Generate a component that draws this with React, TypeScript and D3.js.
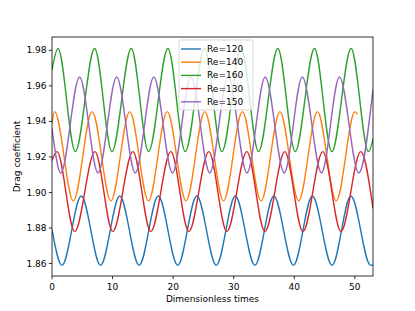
import * as d3 from "d3";

// Re=120
const t120 = [0, 1.65, 4.83, 8.02, 11.19, 14.39, 17.55, 20.76, 23.91, 27.13, 30.27, 33.5, 36.63, 39.87, 42.99, 46.24, 49.35, 52.61, 53];
const v120 = [1.879, 1.859, 1.898, 1.859, 1.898, 1.859, 1.898, 1.859, 1.898, 1.859, 1.898, 1.859, 1.898, 1.859, 1.898, 1.859, 1.898, 1.859, 1.8593];
// Re=140
const t140 = [0, 0.43, 3.53, 6.63, 9.73, 12.83, 15.93, 19.03, 22.13, 25.23, 28.33, 31.43, 34.53, 37.63, 40.73, 43.83, 46.93, 50.03, 50.45];
const v140 = [1.939, 1.9455, 1.8953, 1.9455, 1.8953, 1.9455, 1.8953, 1.9455, 1.8953, 1.9455, 1.8953, 1.9455, 1.8953, 1.9455, 1.8953, 1.9455, 1.8953, 1.9455, 1.944];
// Re=160
const t160 = [0, 0.99, 3.85, 7.04, 9.9, 13.09, 15.95, 19.14, 22.0, 25.19, 28.05, 31.24, 34.1, 37.29, 40.15, 43.34, 46.2, 49.39, 52.25, 53];
const v160 = [1.969, 1.981, 1.923, 1.981, 1.923, 1.981, 1.923, 1.981, 1.923, 1.981, 1.923, 1.981, 1.923, 1.981, 1.923, 1.981, 1.923, 1.981, 1.923, 1.93];
// Re=130
const t130 = [0, 0.82, 3.75, 7.09, 10.03, 13.36, 16.31, 19.63, 22.59, 25.9, 28.87, 32.17, 35.15, 38.44, 41.43, 44.71, 47.71, 50.98, 53];
const v130 = [1.918, 1.923, 1.878, 1.923, 1.878, 1.923, 1.878, 1.923, 1.878, 1.923, 1.878, 1.923, 1.878, 1.923, 1.878, 1.923, 1.878, 1.923, 1.891];
// Re=150
const t150 = [0, 1.45, 4.55, 7.6, 10.68, 13.75, 16.81, 19.9, 22.94, 26.05, 29.07, 32.2, 35.2, 38.35, 41.33, 44.5, 47.46, 50.65, 53];
const v150 = [1.936, 1.911, 1.965, 1.911, 1.965, 1.911, 1.965, 1.911, 1.965, 1.911, 1.965, 1.911, 1.965, 1.911, 1.965, 1.911, 1.965, 1.911, 1.958];

const labels = ["Re=120", "Re=140", "Re=160", "Re=130", "Re=150"];
const colors = ["#1f77b4", "#ff7f0e", "#2ca02c", "#d62728", "#9467bd"];
const seriesT = [t120, t140, t160, t130, t150];
const seriesV = [v120, v140, v160, v130, v150];

const xTicks = [0, 10, 20, 30, 40, 50];
const yTicks = [1.86, 1.88, 1.9, 1.92, 1.94, 1.96, 1.98];

export default function App() {
  const width = 415;
  const height = 311;
  const marginLeft = 52;
  const marginRight = 42;
  const marginTop = 37;
  const marginBottom = 35;

  const x = d3.scaleLinear().domain([0, 53]).range([marginLeft, width - marginRight]);
  const y = d3.scaleLinear().domain([1.853, 1.9875]).range([height - marginBottom, marginTop]);

  const line = d3
    .line<[number, number]>()
    .x((d) => x(d[0]))
    .y((d) => y(d[1]))
    .curve(d3.curveMonotoneX);

  const font = "DejaVu Sans, sans-serif";
  const lx = 179;
  const ly = 40;

  return (
    <svg
      width={width}
      height={height}
      style={{ position: "absolute", left: 0, top: 0, background: "#fff" }}
      fontFamily={font}
    >
      <defs>
        <clipPath id="plot">
          <rect x={marginLeft} y={marginTop} width={width - marginLeft - marginRight} height={height - marginTop - marginBottom} />
        </clipPath>
      </defs>

      {/* linhas */}
      <g clipPath="url(#plot)" fill="none" strokeWidth={1.4}>
        {seriesT.map((ts, i) => (
          <path
            key={i}
            d={line(ts.map((t, j) => [t, seriesV[i][j]] as [number, number])) || ""}
            stroke={colors[i]}
            strokeLinejoin="round"
          />
        ))}
      </g>

      {/* moldura */}
      <rect
        x={marginLeft}
        y={marginTop}
        width={width - marginLeft - marginRight}
        height={height - marginTop - marginBottom}
        fill="none"
        stroke="#000"
        strokeWidth={0.8}
      />

      {/* eixo X */}
      <g fontSize={9} textAnchor="middle">
        {xTicks.map((t) => (
          <g key={t} transform={`translate(${x(t)},${height - marginBottom})`}>
            <line y2={3.2} stroke="#000" strokeWidth={0.8} />
            <text y={14}>{t}</text>
          </g>
        ))}
      </g>
      <text x={(marginLeft + width - marginRight) / 2} y={302} fontSize={9} textAnchor="middle">
        Dimensionless times
      </text>

      {/* eixo Y */}
      <g fontSize={9} textAnchor="end">
        {yTicks.map((t) => (
          <g key={t} transform={`translate(${marginLeft},${y(t)})`}>
            <line x2={-3.2} stroke="#000" strokeWidth={0.8} />
            <text x={-5.5} dy="0.34em">{t.toFixed(2)}</text>
          </g>
        ))}
      </g>
      <text
        transform={`translate(20,${(marginTop + height - marginBottom) / 2}) rotate(-90)`}
        fontSize={9}
        textAnchor="middle"
      >
        Drag coefficient
      </text>

      {/* legenda */}
      <rect x={lx} y={ly} width={74} height={70} rx={2} fill="#fff" fillOpacity={0.8} stroke="#d0d0d0" strokeWidth={0.8} />
      {labels.map((l, i) => (
        <g key={l} transform={`translate(${lx},${ly + 9 + i * 13.2})`}>
          <line x1={2} x2={22} stroke={colors[i]} strokeWidth={1.4} />
          <text x={28} dy="0.34em" fontSize={9}>{l}</text>
        </g>
      ))}
    </svg>
  );
}
